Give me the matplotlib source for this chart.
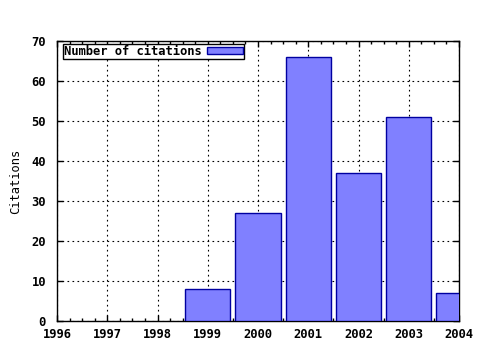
import numpy as np
import matplotlib.pyplot as plt
from matplotlib.ticker import MultipleLocator

years = [1999, 2000, 2001, 2002, 2003, 2004]
citations = [8, 27, 66, 37, 51, 7]
xticks = [1996, 1997, 1998, 1999, 2000, 2001, 2002, 2003, 2004]

plt.rcParams['font.family'] = 'DejaVu Sans Mono'
plt.rcParams['font.weight'] = 'bold'
plt.rcParams['font.size'] = 8.7

fig = plt.figure(figsize=(4.8, 3.5), dpi=100)
ax = fig.add_axes([57/480, 1 - 321/350, (459 - 57)/480, (321 - 41)/350])

ax.bar(years, citations, width=0.9, color='#8080ff', edgecolor='#0000a0',
       linewidth=1, label='Number of citations', zorder=3)

ax.set_xlim(1996, 2004)
ax.set_ylim(0, 70)
ax.set_xticks(xticks)
ax.xaxis.set_minor_locator(MultipleLocator(0.25))
ax.yaxis.set_major_locator(MultipleLocator(10))
ax.tick_params(which='both', direction='in', top=True, right=True, width=1)
ax.tick_params(which='major', length=4)
ax.tick_params(which='minor', length=2)
ax.tick_params(axis='y', pad=8)
ax.tick_params(axis='x', pad=5)
ax.grid(True, which='major', linestyle=(0, (1.5, 3)), color='black', linewidth=0.8)
for s in ax.spines.values():
    s.set_linewidth(1)
ax.set_ylabel('Citations', labelpad=7)

leg = ax.legend(loc='upper left', bbox_to_anchor=(6/402, 1 - 3/280),
                markerfirst=False, fancybox=False,
                framealpha=1, edgecolor='black', borderpad=0.1,
                handlelength=3.0, handleheight=0.5, borderaxespad=0,
                handletextpad=0.4)
leg.get_frame().set_linewidth(1)

fig.savefig('out.png')
